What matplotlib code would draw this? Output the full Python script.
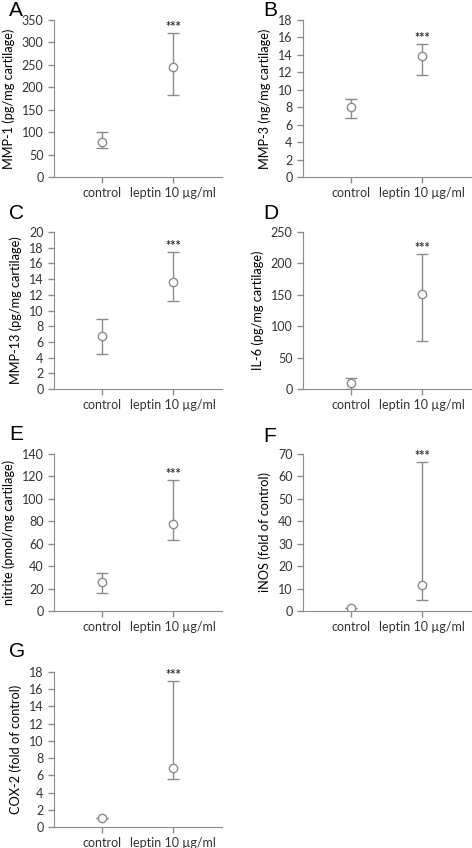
import matplotlib
matplotlib.use("Agg")
from matplotlib import pyplot as plt

plt.rcParams['font.family'] = ['Lato', 'DejaVu Sans']

groups = ["control", "leptin 10 µg/ml"]
panel_letters = ["A", "B", "C", "D", "E", "F", "G"]
ylabels = ["MMP-1 (pg/mg cartilage)", "MMP-3 (ng/mg cartilage)",
           "MMP-13 (pg/mg cartilage)", "IL-6 (pg/mg cartilage)",
           "nitrite (pmol/mg cartilage)", "iNOS (fold of control)",
           "COX-2 (fold of control)"]
# median, lower, upper for control and leptin
mid = [[78, 245], [8.0, 13.9], [6.7, 13.6], [9, 152], [26, 78], [1.5, 11.7], [1.0, 6.9]]
low = [[65, 183], [6.8, 11.7], [4.4, 11.2], [0, 77], [16, 63], [1.5, 4.9], [1.0, 5.6]]
high = [[100, 320], [9.0, 15.3], [8.9, 17.4], [17, 215], [34, 117], [1.5, 66.3], [1.0, 17.0]]
ymax = [350, 18, 20, 250, 140, 70, 18]
ystep = [50, 2, 2, 50, 20, 10, 2]

fig = plt.figure(figsize=(4.72, 8.48), dpi=100)

col_left = [54 / 472, 303 / 472]
row_px = [(20, 177), (232, 389), (454, 611), (672, 827)]
letter_pos = [(9, 1), (263, 1), (9, 204), (263, 204), (9, 425), (263, 427), (9, 642)]

gray = "#8c8c8c"
text_c = "#333333"

for i in range(7):
    r, c = divmod(i, 2)
    top, bot = row_px[r]
    ax = fig.add_axes([col_left[c], 1 - bot / 848, 168 / 472, (bot - top) / 848])
    x = [0, 1]
    m = mid[i]
    yerr = [[m[k] - low[i][k] for k in x], [high[i][k] - m[k] for k in x]]
    ax.errorbar(x, m, yerr=yerr, fmt="o", color=gray, ecolor=gray, elinewidth=1,
                capsize=4, capthick=1, markersize=6, markerfacecolor="white",
                markeredgecolor=gray, markeredgewidth=1)
    ax.text(1, high[i][1], "***", ha="center", va="bottom", fontsize=9,
            fontweight="bold", color=text_c)
    ax.set_xlim(-0.68, 1.69)
    ax.set_ylim(0, ymax[i])
    ax.set_yticks(range(0, ymax[i] + 1, ystep[i]))
    ax.set_xticks(x)
    ax.set_xticklabels(groups, fontsize=8.5)
    ax.tick_params(colors=gray, labelcolor=text_c, labelsize=9, length=4, width=1)
    for s in ["top", "right"]:
        ax.spines[s].set_visible(False)
    for s in ["left", "bottom"]:
        ax.spines[s].set_color(gray)
    ax.set_ylabel(ylabels[i], fontsize=9.2, color="black", labelpad=5)
    fig.text(letter_pos[i][0] / 472, 1 - letter_pos[i][1] / 848, panel_letters[i],
             fontsize=15, family="Liberation Sans", va="top", ha="left")

fig.savefig("out.png", dpi=100)
